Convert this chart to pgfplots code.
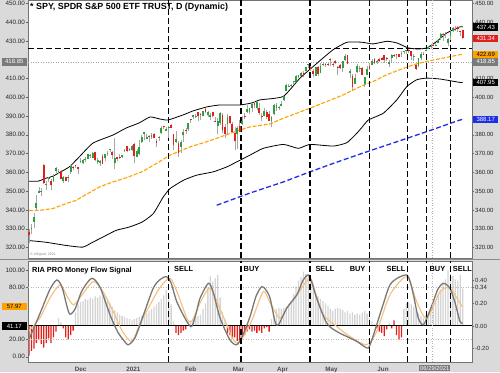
\documentclass[border=0pt]{standalone}
\usepackage{pgfplots}
\pgfplotsset{compat=1.18}
\usepackage{pgfplotstable}
\usepackage{fontspec}
\setmainfont{Liberation Sans}
\definecolor{cgreen}{HTML}{2E9E3E}
\definecolor{cred}{HTML}{E0201B}
\definecolor{wick}{HTML}{A8A8A8}
\definecolor{maorange}{HTML}{FFA200}
\definecolor{mablue}{HTML}{1E2FE6}
\definecolor{stripbg}{HTML}{DADADA}
\definecolor{histgray}{HTML}{D4D4D4}
\definecolor{oscgray}{HTML}{787878}
\definecolor{sigorange}{HTML}{F7C07A}
\definecolor{taggray}{HTML}{7A7A7A}
\newcommand{\fA}{\fontsize{6.3}{7}\selectfont}
\newcommand{\fR}{\fontsize{6}{7}\selectfont}
\newcommand{\fT}{\fontsize{6}{7}\selectfont}
\newcommand{\fL}{\bfseries\fontsize{7.4}{8}\selectfont}

\pgfplotstableread{
i o h l c
1 330.20 332.36 327.24 330.20
2 333.69 338.25 330.29 336.03
3 340.86 347.94 339.59 343.54
4 349.24 352.19 348.86 350.24
5 349.93 351.51 347.65 350.16
7 353.49 355.18 350.51 354.04
8 356.40 357.56 355.06 356.67
10 355.27 358.90 354.71 358.10
11 360.98 362.78 359.59 362.57
12 359.97 361.92 359.33 360.62
14 355.60 358.18 354.15 357.78
16 357.28 358.82 354.87 357.46
17 360.21 363.81 359.29 363.22
21 365.57 367.68 364.93 366.02
22 364.82 366.96 364.20 366.79
23 366.68 368.19 365.50 366.69
24 367.32 369.85 367.22 369.85
25 369.02 369.62 367.72 369.09
26 367.72 370.78 367.67 370.17
28 365.37 367.86 364.43 366.73
29 364.90 366.74 363.26 366.30
31 367.40 369.59 365.92 369.59
32 369.82 371.16 368.87 370.17
33 371.94 372.46 371.05 372.24
35 364.97 378.46 362.03 367.86
38 368.08 369.03 367.45 369.00
39 371.74 372.59 371.07 372.17
42 371.78 374.66 371.23 373.88
44 368.10 372.50 368.05 371.33
45 369.71 376.98 369.12 373.55
46 376.10 379.90 375.91 379.10
47 380.59 381.49 377.10 381.26
48 377.85 380.58 377.72 378.69
50 378.69 380.86 377.85 379.79
53 378.34 379.23 376.75 378.65
54 381.11 384.79 380.69 383.89
56 382.25 384.13 381.84 382.88
57 383.67 384.77 378.46 384.39
60 376.36 381.93 375.89 377.63
62 373.72 377.34 370.38 376.23
63 379.65 383.22 376.32 381.55
65 382.96 386.24 381.97 386.19
67 389.27 390.56 388.35 390.51
68 389.61 391.06 388.87 390.25
71 389.85 392.90 389.77 392.64
73 390.42 392.66 389.33 392.39
74 389.59 391.52 387.74 390.72
77 384.66 388.95 380.20 387.50
78 386.33 392.23 385.27 391.77
81 385.59 390.92 380.57 389.58
85 380.46 384.76 372.64 383.63
87 385.85 389.91 385.31 387.17
89 392.23 395.65 391.74 393.53
90 392.07 394.21 391.20 394.06
91 394.33 396.69 392.03 396.41
93 394.53 398.12 393.30 397.26
96 390.03 394.07 389.97 392.59
99 387.50 390.00 383.90 389.70
100 390.93 396.41 390.29 395.98
101 394.40 396.75 392.81 395.78
102 394.42 395.45 393.02 394.73
103 395.34 398.00 395.31 396.33
104 398.40 400.67 398.18 400.61
105 403.46 406.94 403.38 406.36
106 405.76 407.24 405.40 406.12
107 405.94 407.00 405.41 406.59
108 407.93 408.58 406.93 408.52
109 408.39 411.67 408.26 411.49
110 410.85 411.93 410.20 411.64
111 411.53 413.53 411.12 412.86
113 413.74 416.16 413.69 415.87
114 417.25 417.91 415.73 417.26
117 411.51 416.29 411.36 416.07
119 412.87 418.25 412.79 416.74
120 417.44 418.22 416.81 417.61
128 415.83 419.21 413.68 419.07
129 419.89 422.82 419.16 422.12
131 413.10 415.27 410.06 414.21
133 407.07 412.35 407.02 410.28
134 413.21 417.49 413.18 416.58
135 415.39 416.39 413.36 415.52
137 406.92 411.05 405.33 410.86
138 411.80 416.63 411.67 415.28
140 417.34 420.32 417.08 419.17
142 418.87 419.61 417.76 419.07
147 417.85 419.99 416.28 418.77
148 420.75 422.92 418.84 422.60
152 422.96 424.63 421.55 423.61
153 424.20 424.43 422.82 424.31
154 424.43 425.37 422.82 425.26
157 421.67 423.02 419.32 421.97
159 416.80 421.06 415.93 420.86
160 420.85 424.00 420.08 423.11
162 424.89 425.55 424.62 425.10
163 425.90 427.09 425.55 426.61
164 427.17 427.65 425.89 427.47
166 427.21 428.78 427.18 428.06
167 428.87 430.60 428.80 430.43
168 431.67 434.10 430.52 433.72
170 433.66 434.76 431.51 434.46
171 428.78 431.73 427.52 430.92
172 432.53 435.84 430.71 435.52
173 435.43 437.35 434.97 437.08
}\upcandles

\pgfplotstableread{
i o h l c
0 328.28 329.69 322.60 326.54
6 363.97 364.38 354.06 354.56
9 355.58 356.72 350.78 353.21
13 360.91 361.50 356.24 356.28
15 357.50 357.72 355.25 355.33
18 363.13 363.16 361.20 362.66
19 363.84 364.18 362.58 363.67
20 362.83 363.12 359.17 362.06
27 370.88 371.05 365.95 366.85
30 368.64 369.80 364.47 364.66
34 370.97 371.15 367.02 369.18
36 368.21 368.33 366.03 367.24
37 368.28 369.62 367.22 367.57
40 373.81 374.00 370.83 371.46
41 372.34 373.10 371.57 371.99
43 375.31 375.45 364.82 368.79
49 378.89 379.86 376.36 378.77
51 380.59 381.13 378.10 378.46
52 376.72 377.58 373.70 375.70
55 384.49 384.95 383.25 384.24
58 385.41 385.85 383.54 383.79
59 380.22 380.32 372.01 374.41
61 375.63 376.67 368.27 370.07
64 382.44 383.70 380.48 381.85
66 388.20 388.47 386.14 387.71
69 392.12 392.28 387.50 390.08
70 391.24 391.69 388.10 390.71
72 393.96 394.17 391.53 392.30
75 392.07 392.38 389.55 390.03
76 387.06 389.62 386.74 387.03
79 390.41 391.88 380.78 382.33
80 384.35 385.58 378.23 380.36
82 389.82 390.07 386.00 386.54
83 385.79 386.83 381.31 381.42
84 381.22 384.00 371.88 376.70
86 384.66 387.68 381.42 381.72
88 389.69 391.40 388.17 389.58
92 397.07 397.83 394.11 395.91
94 394.48 396.72 390.75 391.48
95 389.88 391.57 387.15 389.48
97 391.91 393.46 388.66 389.50
98 391.00 392.75 387.47 387.52
112 412.83 413.96 410.87 411.45
115 416.26 416.74 413.79 415.21
116 413.91 415.09 410.59 412.17
118 415.89 416.78 411.13 412.27
121 417.93 418.14 416.30 417.52
122 417.81 419.01 416.90 417.40
123 420.32 420.72 416.44 420.06
124 417.63 418.54 416.34 417.30
125 419.43 419.84 417.67 418.20
126 416.07 416.60 411.67 415.62
127 417.38 417.63 415.15 415.75
130 422.50 422.74 417.81 417.94
132 411.23 412.59 404.00 405.41
136 415.80 416.06 411.77 411.94
139 416.87 418.20 414.45 414.94
141 420.33 420.71 417.62 418.24
143 420.17 420.72 418.99 419.29
144 420.97 421.25 419.79 420.04
145 422.57 422.72 418.46 419.67
146 420.37 421.23 419.29 420.33
149 422.59 422.78 421.19 422.19
150 423.11 423.21 420.32 422.28
151 423.18 423.26 421.41 421.65
155 425.42 425.46 423.54 424.48
156 424.63 424.87 419.92 422.11
158 417.09 417.83 414.70 414.92
161 423.19 424.05 422.51 422.60
165 427.88 428.56 427.13 427.70
169 433.78 434.01 430.01 432.93
174 436.24 437.84 435.31 435.59
175 437.40 437.92 434.91 436.24
176 434.81 435.53 432.72 434.75
177 436.01 436.06 430.92 431.34
}\downcandles

\pgfplotsset{
  vline/.style={black, line width=1.1pt, dash pattern=on 6pt off 3pt},
  candle/.style={only marks, mark=*, mark size=0pt, mark options={draw=none, fill=none}},
}
\tikzset{
  tag/.style={font=\fT, inner sep=0pt, minimum height=7.6pt, minimum width=25pt},
}

\begin{document}
\begin{tikzpicture}
\fill[stripbg] (0pt,0pt) rectangle (500pt,372pt);
\draw[black!45, line width=1.2pt] (0pt,112.5pt) -- (500pt,112.5pt);

% ================= PRICE PANEL =================
\begin{axis}[
  at={(28pt,114pt)}, anchor=south west, scale only axis,
  width=444pt, height=258pt,
  xmin=-0.41, xmax=180.8, ymin=314.41, ymax=451.79,
  axis background/.style={fill=white},
  axis line style={draw=black!55, line width=0.4pt},
  xtick=\empty,
  ytick={320,330,340,350,360,370,380,390,400,410,430,440,450},
  yticklabels={320.00,330.00,340.00,350.00,360.00,370.00,380.00,390.00,400.00,410.00,430.00,440.00,450.00},
  ytick pos=left,
  yticklabel style={font=\fA, text=black!85, inner sep=1pt},
  ytick style={draw=black!60, line width=0.4pt},
  major tick length=2pt, tick align=outside,
]
\addplot[gray!70, line width=0.5pt, dotted] coordinates {(-0.41,418.85) (180.8,418.85)};
\addplot[vline] coordinates {(-0.41,425.9) (180.8,425.9)};
\addplot[black, line width=0.8pt, smooth, tension=0.3] coordinates {
(0,355.3)(3.7,355.3)(6.9,356.9)(9.8,358.0)(16.3,362.8)(20.4,368.1)(26.1,375.6)(34.3,379.9)(39.6,383.6)(44.9,386.3)(49.4,389.5)(53.5,388.4)(56.7,387.9)(62.9,390.6)(66.9,392.7)(72.7,394.9)(78,395.9)(86.1,395.9)(91,397)(94.3,398.6)(103.7,400.4)(110.6,410.2)(117.6,418.2)(124.1,425.3)(129.8,429.3)(135.9,429.3)(140.4,428.4)(146.1,429.8)(150.2,428.9)(154.7,426.3)(158.8,425.7)(162.4,426.3)(166.5,429.8)(170.6,434.3)(175.9,437.5)(177,437.4)};
\addplot[black, line width=0.8pt, smooth, tension=0.3] coordinates {
(0,323.7)(6.9,322.8)(15.1,321.1)(21.9,320.2)(26,322.8)(31.4,326.4)(35.5,329.1)(40.9,330.9)(46.1,333.5)(50.7,338)(54.8,346.9)(57.6,351.4)(63,355.8)(68.4,358.5)(75.2,360.3)(80.7,362.9)(84.8,365.6)(90.2,369.2)(95.6,372.8)(103.8,374.9)(109.9,372.8)(114.7,374.9)(124.2,374)(129.7,375.8)(133.9,381)(135.9,384)(138.5,387.9)(144.6,391.5)(150.1,398.6)(154.2,405.7)(158.2,409.3)(162.3,410.2)(167.8,409.7)(175.9,407.9)(177,407.95)};
\addplot[maorange, line width=1.1pt, dash pattern=on 4pt off 1.6pt] coordinates {
(0,339.6)(4.2,339.8)(9.7,340.7)(15.1,343.4)(19.2,345.1)(23.3,348.2)(28.7,352.2)(34.2,354.9)(39.6,357.1)(46.1,360.3)(52.1,364.8)(57.6,369.2)(65.7,373.6)(72.5,376.3)(79.3,379.4)(86.1,382.6)(90.2,384.2)(98.4,385.8)(103.7,388.8)(109.3,391.5)(114.7,394.2)(121.5,397.7)(128.3,401.3)(135.9,406.1)(140.5,408.4)(146,412)(151.4,414.7)(156.9,417.3)(162.3,419.1)(169.1,420.9)(175.9,422.7)(177,422.69)};
\addplot[mablue, line width=1.3pt, dash pattern=on 5pt off 2.5pt] coordinates {
(76.6,342.5)(90.2,349)(103.8,354.9)(114.7,360.3)(124.2,364.8)(135.9,370.1)(154.2,378.1)(162.3,381.7)(175.9,387.9)(177,388.17)};
\addplot[vline] coordinates {(57.1,314.41) (57.1,451.79)};
\addplot[vline] coordinates {(86.5,314.41) (86.5,451.79)};
\addplot[vline] coordinates {(114.7,314.41) (114.7,451.79)};
\addplot[vline] coordinates {(138.8,314.41) (138.8,451.79)};
\addplot[vline] coordinates {(154.6,314.41) (154.6,451.79)};
\addplot[vline] coordinates {(162.4,314.41) (162.4,451.79)};
\addplot[vline] coordinates {(172.2,314.41) (172.2,451.79)};
\addplot[gray!60, line width=0.6pt, dotted] coordinates {(164.5,314.41) (164.5,451.79)};
% candles: wicks
\addplot[candle, error bars/.cd, y dir=plus, y explicit, error mark=none,
  error bar style={draw=wick, line width=0.6pt}]
  table[x=i, y=l, y error expr=\thisrow{h}-\thisrow{l}] {\upcandles};
\addplot[candle, error bars/.cd, y dir=plus, y explicit, error mark=none,
  error bar style={draw=wick, line width=0.6pt}]
  table[x=i, y=l, y error expr=\thisrow{h}-\thisrow{l}] {\downcandles};
% candles: bodies
\addplot[candle, error bars/.cd, y dir=plus, y explicit, error mark=none,
  error bar style={draw=cgreen, line width=1.8pt}]
  table[x=i, y=o, y error expr={max(\thisrow{c}-\thisrow{o},0.35)}] {\upcandles};
\addplot[candle, error bars/.cd, y dir=plus, y explicit, error mark=none,
  error bar style={draw=cred, line width=1.8pt}]
  table[x=i, y=c, y error expr={max(\thisrow{o}-\thisrow{c},0.35)}] {\downcandles};
\node[anchor=north west, font=\bfseries\fontsize{8.9}{10}\selectfont, inner sep=0pt, xshift=2pt, yshift=-3pt]
  at (rel axis cs:0,1) {* SPY, SPDR S\&P 500 ETF TRUST, D (Dynamic)};
\node[anchor=south west, font=\fontsize{3.6}{4}\selectfont, text=black!45, inner sep=0pt, xshift=2pt, yshift=2pt]
  at (rel axis cs:0,0) {\textcopyright\ eSignal, 2021};
\coordinate (tR1) at (axis cs:180.8,437.43);
\coordinate (tR2) at (axis cs:180.8,431.34);
\coordinate (tR3) at (axis cs:180.8,422.69);
\coordinate (tR4) at (axis cs:180.8,418.85);
\coordinate (tR5) at (axis cs:180.8,407.95);
\coordinate (tR6) at (axis cs:180.8,388.17);
\coordinate (tL1) at (axis cs:-0.41,418.85);
\end{axis}

% right price scale
\begin{axis}[
  at={(28pt,114pt)}, anchor=south west, scale only axis,
  width=444pt, height=258pt,
  xmin=-0.41, xmax=180.8, ymin=314.41, ymax=451.79,
  axis x line=none, axis y line*=right,
  axis line style={draw=black!55, line width=0.4pt},
  ytick={320,330,340,350,360,370,380,400,410,440,450},
  yticklabels={320.00,330.00,340.00,350.00,360.00,370.00,380.00,400.00,410.00,440.00,450.00},
  yticklabel style={font=\fR, text=black!85, inner sep=1pt},
  ytick style={draw=black!60, line width=0.4pt},
  major tick length=2pt, tick align=outside,
]
\addplot[draw=none] coordinates {(0,320)};
\end{axis}

\node[tag, anchor=west, fill=black, text=white] at ([xshift=1pt]tR1) {437.43};
\node[tag, anchor=west, fill=cred, text=white] at ([xshift=1pt]tR2) {431.34};
\node[tag, anchor=west, fill=maorange, text=black] at ([xshift=1pt]tR3) {422.69};
\node[tag, anchor=west, fill=taggray, text=white] at ([xshift=1pt]tR4) {418.85};
\node[tag, anchor=west, fill=black, text=white] at ([xshift=1pt]tR5) {407.95};
\node[tag, anchor=west, fill=mablue, text=white] at ([xshift=1pt]tR6) {388.17};
\node[tag, anchor=east, fill=taggray, text=white] at ([xshift=-1pt]tL1) {418.85};

% ================= MONEY FLOW PANEL (right scale, histogram) =================
\begin{axis}[
  at={(28pt,10pt)}, anchor=south west, scale only axis,
  width=444pt, height=101pt,
  xmin=-0.41, xmax=180.8, ymin=-0.3172, ymax=0.5727,
  axis background/.style={fill=white},
  axis line style={draw=black!55, line width=0.4pt},
  xtick={21.1,42.6,66,85.5,103.5,123.5,144.5},
  xticklabels={Dec,2021,Feb,Mar,Apr,May,Jun},
  xtick style={draw=none},
  xticklabel style={font=\bfseries\fontsize{6.3}{7}\selectfont, text=black!70, inner sep=0pt, yshift=-2.5pt},
  ytick={-0.2,0,0.2,0.34,0.4},
  yticklabels={-0.20,0.00,0.20,0.34,0.40},
  ytick pos=right, yticklabel pos=right,
  yticklabel style={font=\fR, text=black!85, inner sep=1pt},
  ytick style={draw=black!60, line width=0.4pt},
  major tick length=2pt, tick align=outside,
]
\addplot[ybar, bar width=1.3pt, bar shift=0pt, fill=histgray, draw=none] coordinates {
(12,0.07)(13,0.03)(19,0.12)(20,0.19)(21,0.21)(22,0.22)(23,0.24)(24,0.23)(25,0.25)(26,0.24)(27,0.26)(28,0.25)(29,0.27)(30,0.26)(31,0.27)(32,0.24)(33,0.20)(34,0.17)(35,0.14)(36,0.12)(37,0.10)(38,0.09)(39,0.08)(40,0.07)(41,0.06)(42,0.05)(43,0.06)(44,0.07)(45,0.08)(46,0.09)(47,0.10)(48,0.11)(49,0.13)(50,0.15)(51,0.17)(52,0.19)(53,0.21)(54,0.24)(55,0.27)(56,0.32)(57,0.27)(58,0.19)(59,0.04)
(65,0.04)(66,0.05)(67,0.06)(68,0.08)(69,0.09)(70,0.10)(71,0.15)(72,0.20)(73,0.34)(74,0.44)(75,0.39)(76,0.42)(77,0.45)(78,0.25)(79,0.12)(80,0.05)
(99,0.06)(100,0.10)(101,0.15)(102,0.16)(103,0.15)(104,0.16)(105,0.17)(106,0.19)(107,0.22)(108,0.28)(109,0.35)(110,0.40)(111,0.43)(112,0.48)(113,0.46)(114,0.45)(115,0.42)(116,0.36)(117,0.29)(118,0.26)(119,0.24)(120,0.22)(121,0.20)(122,0.18)(123,0.15)(124,0.13)(125,0.15)(126,0.16)(127,0.15)(128,0.14)(129,0.12)(130,0.13)(131,0.11)(132,0.12)(133,0.10)(134,0.11)(135,0.10)(136,0.12)(137,0.13)(138,0.11)(139,0.07)(140,0.04)(141,0.02)
(147,0.03)(153,0.15)(154,0.20)(155,0.21)(156,0.19)(157,0.17)(158,0.14)(159,0.11)(160,0.09)(161,0.07)(162,0.10)(163,0.12)(164,0.15)(165,0.19)(166,0.22)(167,0.28)(168,0.32)(169,0.37)(170,0.41)(171,0.49)(172,0.46)(173,0.44)(174,0.41)(175,0.40)(176,0.45)(177,0.33)};
\addplot[ybar, bar width=1.3pt, bar shift=0pt, fill=cred, draw=none] coordinates {
(0,-0.26)(1,-0.22)(2,-0.20)(3,-0.15)(4,-0.12)(5,-0.16)(6,-0.19)(7,-0.15)(8,-0.11)(9,-0.15)(10,-0.10)(11,-0.05)(14,-0.02)(15,-0.10)(16,-0.12)(17,-0.08)(18,-0.04)
(60,-0.06)(61,-0.08)(62,-0.06)(63,-0.04)(64,-0.03)
(81,-0.06)(82,-0.08)(83,-0.11)(84,-0.10)(85,-0.13)(86,-0.14)(87,-0.11)(88,-0.08)(89,-0.05)(90,-0.03)(91,-0.05)(92,-0.04)(93,-0.06)(94,-0.04)(95,-0.06)(96,-0.02)(97,-0.01)(98,-0.05)
(142,-0.02)(143,-0.05)(144,-0.06)(145,-0.09)(146,-0.03)(148,-0.02)(149,0.05)(150,-0.08)(151,-0.12)(152,-0.10)};
\addplot[black, line width=1pt] coordinates {(-0.41,0) (180.8,0)};
\coordinate (dbox) at (axis cs:165.6,-0.3172);
\end{axis}

% ================= MONEY FLOW PANEL (left scale, lines) =================
\begin{axis}[
  at={(28pt,10pt)}, anchor=south west, scale only axis,
  width=444pt, height=101pt,
  xmin=-0.41, xmax=180.8, ymin=-6.11, ymax=110.38,
  axis x line=none, axis y line*=left,
  axis line style={draw=black!55, line width=0.4pt},
  ytick={0,20,80,100},
  yticklabels={0.00,20.00,80.00,100.00},
  yticklabel style={font=\fA, text=black!85, inner sep=1pt},
  ytick style={draw=black!60, line width=0.4pt},
  major tick length=2pt, tick align=outside,
]
\addplot[gray!55, line width=0.5pt, dotted] coordinates {(-0.41,80) (180.8,80)};
\addplot[gray!55, line width=0.5pt, dotted] coordinates {(-0.41,20) (180.8,20)};
\addplot[sigorange, line width=1.1pt, smooth, tension=0.45] coordinates {
(0,30)(4.5,45)(8.6,68)(12.7,82.8)(15.5,70)(18.1,59.8)(20.8,68)(26.2,86.6)(30.2,75)(34.4,52)(38,30)(41.9,17.6)(45.3,38)(49.4,59.8)(53.5,80)(57.6,90.4)(60.8,72)(64.4,44.5)(66.4,40.6)(69.8,62)(73.9,79)(78,55)(83.4,19.5)(86.1,16.9)(88.6,30)(91,42)(95.6,75)(98.4,62)(102.4,44.5)(105.7,58)(109.3,71.3)(114.7,90.4)(117.1,72)(120.1,48.3)(125.6,34.8)(131,23.3)(137.8,13.8)(141.9,29.1)(147.3,71.3)(154.2,92.3)(158.2,63.6)(162.3,44.5)(167.8,75)(171.8,79)(176.3,59.8)(177,57.97)};
\addplot[oscgray, line width=1.3pt, smooth, tension=0.45] coordinates {
(0,20)(4.5,50)(8.6,78)(11.4,88.5)(13.5,80)(15.5,58)(16.7,49)(18.8,55)(21.6,76)(25.6,90.4)(29,80)(33.1,48)(36.3,28)(38.5,19.5)(40.5,13.8)(43.3,22)(46.7,48)(50.7,79)(53.5,89)(56.2,92.3)(58,85)(60.3,63.6)(64.4,40.6)(66.4,34.8)(68.2,50)(69.8,67.4)(73.2,84.7)(75.1,75)(78,44.5)(82,19.5)(84.8,13.8)(87.3,25)(90.2,46.3)(92.7,70)(95,80.8)(96.7,77)(98.4,67.4)(100.4,40.6)(101.8,36.8)(105.2,56)(109.3,71.3)(111.8,88)(114,94.3)(115.5,85)(117.4,67.4)(121.5,38.7)(125.6,29.1)(129.7,23.3)(133.8,17.6)(136.7,12)(138.5,10)(140,20)(141.9,36.8)(144.5,60)(147.3,82.8)(150.6,91)(154.2,94.3)(155.5,87)(156.9,71.3)(158.9,44.5)(160.9,36.8)(162.9,48)(165,63.6)(166.9,78)(169.1,84.7)(171.8,79)(173.9,62)(175.9,40.6)(177,39)};
\addplot[vline] coordinates {(57.1,-6.11) (57.1,110.38)};
\addplot[vline] coordinates {(86.5,-6.11) (86.5,110.38)};
\addplot[vline] coordinates {(114.7,-6.11) (114.7,110.38)};
\addplot[vline] coordinates {(138.8,-6.11) (138.8,110.38)};
\addplot[vline] coordinates {(154.6,-6.11) (154.6,110.38)};
\addplot[vline] coordinates {(162.4,-6.11) (162.4,110.38)};
\addplot[vline] coordinates {(172.2,-6.11) (172.2,110.38)};
\addplot[gray!60, line width=0.6pt, dotted] coordinates {(164.5,-6.11) (164.5,110.38)};
\node[anchor=north west, font=\fL, inner sep=0pt, xshift=4pt, yshift=-5.5pt] at (rel axis cs:0,1) {RIA PRO Money Flow Signal};
\node[anchor=north, font=\fL, inner sep=0pt, yshift=-5.5pt] at (axis cs:63.1,110.38) {SELL};
\node[anchor=north, font=\fL, inner sep=0pt, yshift=-5.5pt] at (axis cs:90.8,110.38) {BUY};
\node[anchor=north, font=\fL, inner sep=0pt, yshift=-5.5pt] at (axis cs:120.8,110.38) {SELL};
\node[anchor=north, font=\fL, inner sep=0pt, yshift=-5.5pt] at (axis cs:134.1,110.38) {BUY};
\node[anchor=north, font=\fL, inner sep=0pt, yshift=-5.5pt] at (axis cs:149.8,110.38) {SELL};
\node[anchor=north, font=\fL, inner sep=0pt, yshift=-5.5pt] at (axis cs:166.7,110.38) {BUY};
\node[anchor=north, font=\fL, inner sep=0pt, yshift=-5.5pt] at (axis cs:176.9,110.38) {SELL};
\coordinate (tL2) at (axis cs:-0.41,57.97);
\coordinate (tL3) at (axis cs:-0.41,35.4);
\end{axis}

\node[tag, anchor=east, fill=maorange, text=black] at ([xshift=-1pt]tL2) {57.97};
\node[tag, anchor=east, fill=black, text=white] at ([xshift=-1pt]tL3) {41.17};
\node[font=\fontsize{5.8}{6.5}\selectfont, fill=taggray, text=white, inner sep=0.8pt, anchor=north] at ([yshift=-3pt]dbox) {06/29/2021};

\pgfresetboundingbox
\useasboundingbox (0pt,0pt) rectangle (500pt,372pt);
\end{tikzpicture}
\end{document}
